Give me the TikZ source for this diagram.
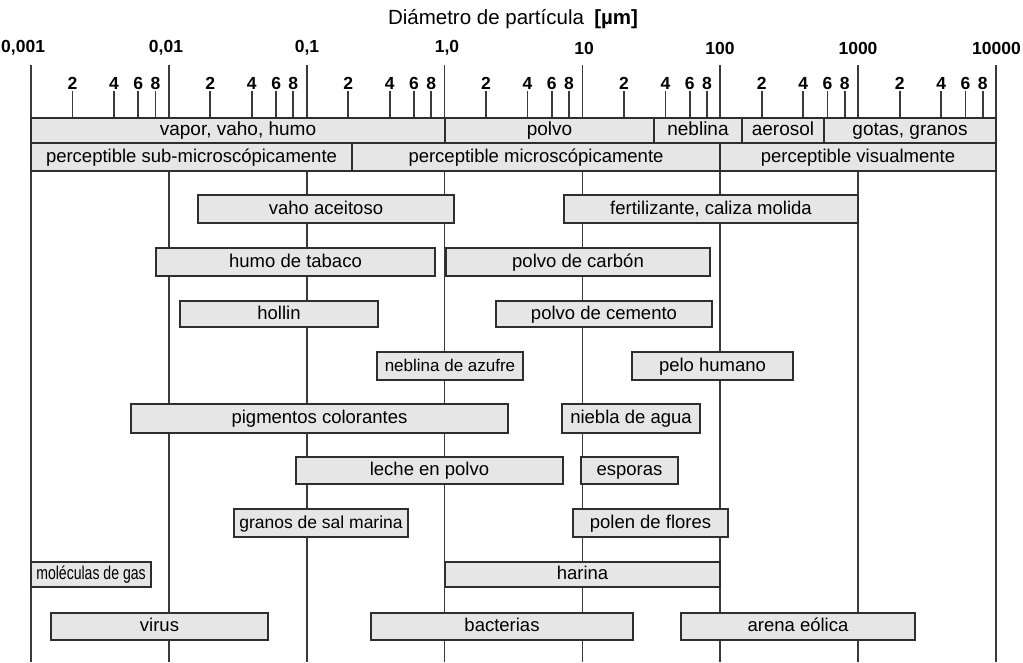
\documentclass[tikz,border=0pt]{standalone}
\usepackage{fontspec}
\setmainfont{Liberation Sans}
\definecolor{linegray}{HTML}{3A3A3A}
\definecolor{boxedge}{HTML}{2E2E2E}
\definecolor{boxfill}{HTML}{E6E6E6}
% range bar: [options] name, x-left, x-right, y-top, y-bottom, label
\newcommand{\rangebox}[7][]{%
  \node[rbox,#1,minimum width={(#4-#3)*1pt},minimum height={(#6-#5)*1pt}]
    (#2) at ({(#3+#4)/2},{(#5+#6)/2}) {#7};}
\begin{document}
\begin{tikzpicture}[x=1pt,y=-1pt,
  axisline/.style={draw=linegray,line width=1.8pt},
  tickline/.style={draw=linegray,line width=1.8pt},
  rbox/.style={draw=boxedge,fill=boxfill,line width=1.8pt,inner sep=0pt,
    text height=13pt,text depth=3pt,
    font=\fontsize{18.5}{20}\selectfont},
  numlabel/.style={font=\bfseries\fontsize{17.5}{18}\selectfont,inner sep=0pt},
  ]
\useasboundingbox (0,0) rectangle (1023,662);

% decade grid lines
\foreach \k in {0,...,7}{
  \pgfmathsetmacro\dx{31+137.86*\k}
  \draw[axisline] (\dx,65) -- (\dx,662);
}
% minor ticks 2,4,6,8 inside each decade
\foreach \k in {0,...,6}{
  \foreach \m in {2,4,6,8}{
    \pgfmathsetmacro\tx{31+137.86*(\k+log10(\m))}
    \draw[tickline] (\tx,91) -- (\tx,118);
    \node[numlabel] (t\k-\m) at (\tx,83) {\m};
  }
}

% axis title and decade labels
\node[inner sep=0pt,font=\fontsize{20.5}{22}\selectfont] (title) at (513,19)
  {Diámetro de partícula\enspace\textbf{[µm]}};
\node[numlabel,anchor=west] (d0) at (1,48) {0,001};
\node[numlabel] (d1) at (166,48) {0,01};
\node[numlabel] (d2) at (307,48) {0,1};
\node[numlabel] (d3) at (447,48) {1,0};
\node[numlabel] (d4) at (584,48) {10};
\node[numlabel] (d5) at (720,48) {100};
\node[numlabel] (d6) at (858,48) {1000};
\node[numlabel,anchor=east] (d7) at (1021,48) {10000};

% classification bands
\rangebox[font=\fontsize{19}{20}\selectfont]{vapor}{31}{445}{118}{143}{vapor, vaho, humo}
\rangebox[font=\fontsize{19}{20}\selectfont]{polvo}{445}{654}{118}{143}{polvo}
\rangebox[font=\fontsize{19}{20}\selectfont]{neblina}{654}{742}{118}{143}{neblina}
\rangebox[font=\fontsize{19}{20}\selectfont]{aerosol}{742}{824}{118}{143}{aerosol}
\rangebox[font=\fontsize{19}{20}\selectfont]{gotas}{824}{996}{118}{143}{gotas, granos}
\rangebox{submicro}{31}{352}{143}{171}{perceptible sub-microscópicamente}
\rangebox{micro}{352}{720}{143}{171}{perceptible microscópicamente}
\rangebox{visual}{720}{996}{143}{171}{perceptible visualmente}

% particle size ranges
\rangebox{vaho}{198}{454}{195}{223}{vaho aceitoso}
\rangebox{fert}{564}{858}{195}{223}{fertilizante, caliza molida}
\rangebox{tabaco}{156}{435}{248}{276}{humo de tabaco}
\rangebox{carbon}{446}{710}{248}{276}{polvo de carbón}
\rangebox{hollin}{180}{378}{301}{327}{hollin}
\rangebox{cemento}{496}{712}{301}{327}{polvo de cemento}
\rangebox[font=\fontsize{17}{18}\selectfont]{azufre}{377}{523}{352}{380}{neblina de azufre}
\rangebox{pelo}{632}{793}{352}{380}{pelo humano}
\rangebox{pigmentos}{131}{508}{404}{433}{pigmentos colorantes}
\rangebox{niebla}{562}{700}{404}{433}{niebla de agua}
\rangebox{leche}{296}{563}{457}{484}{leche en polvo}
\rangebox{esporas}{581}{678}{457}{484}{esporas}
\rangebox[font=\fontsize{17.5}{19}\selectfont]{sal}{234}{408}{509}{537}{granos de sal marina}
\rangebox{polen}{573}{728}{509}{537}{polen de flores}
\rangebox{gas}{31}{151}{562}{587}{\scalebox{0.76}[1]{moléculas de gas}}
\rangebox{harina}{445}{720}{562}{587}{harina}
\rangebox{virus}{51}{268}{613}{640}{virus}
\rangebox{bacterias}{371}{633}{613}{640}{bacterias}
\rangebox{arena}{681}{915}{613}{640}{arena eólica}
\end{tikzpicture}
\end{document}
